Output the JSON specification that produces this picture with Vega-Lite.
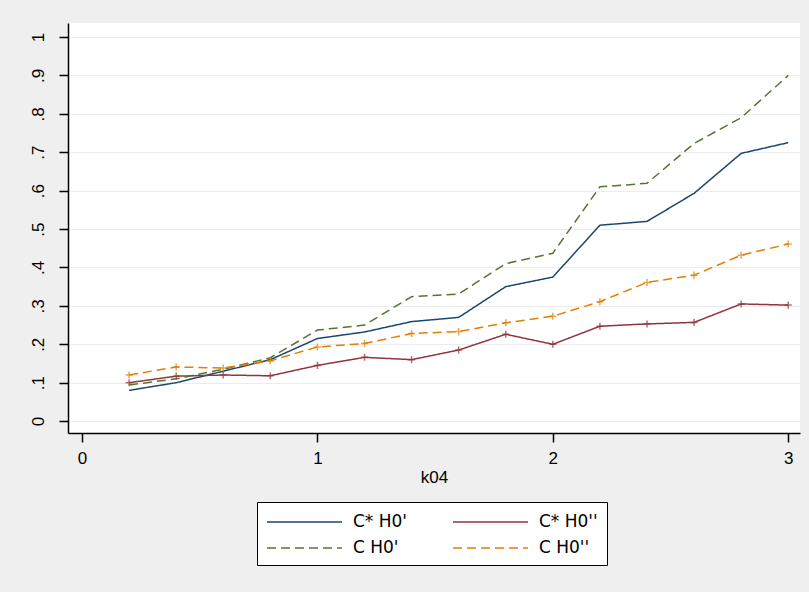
{
  "$schema": "https://vega.github.io/schema/vega-lite/v6.json",
  "autosize": {"type": "none"},
  "width": 732,
  "height": 410,
  "padding": {"left": 68, "top": 23, "right": 9, "bottom": 159},
  "background": "#efefef",
  "config": {
    "view": {"fill": "white", "stroke": null},
    "font": "Liberation Sans",
    "axis": {
      "domainColor": "black", "domainWidth": 1.5,
      "tickColor": "black", "tickWidth": 1.5, "tickSize": 9,
      "labelColor": "black", "labelFontSize": 17, "labelFont": "Liberation Sans",
      "titleColor": "black", "titleFontSize": 17, "titleFontWeight": "normal", "titleFont": "Liberation Sans",
      "gridColor": "#ececec", "gridWidth": 1
    }
  },
  "data": {
    "values": [
      {"x": 0.2, "series": "C* H0'", "y": 0.08},
      {"x": 0.4, "series": "C* H0'", "y": 0.10},
      {"x": 0.6, "series": "C* H0'", "y": 0.13},
      {"x": 0.8, "series": "C* H0'", "y": 0.16},
      {"x": 1.0, "series": "C* H0'", "y": 0.215},
      {"x": 1.2, "series": "C* H0'", "y": 0.232},
      {"x": 1.4, "series": "C* H0'", "y": 0.259},
      {"x": 1.6, "series": "C* H0'", "y": 0.27},
      {"x": 1.8, "series": "C* H0'", "y": 0.35},
      {"x": 2.0, "series": "C* H0'", "y": 0.375},
      {"x": 2.2, "series": "C* H0'", "y": 0.51},
      {"x": 2.4, "series": "C* H0'", "y": 0.52},
      {"x": 2.6, "series": "C* H0'", "y": 0.593},
      {"x": 2.8, "series": "C* H0'", "y": 0.697},
      {"x": 3.0, "series": "C* H0'", "y": 0.725},
      {"x": 0.2, "series": "C* H0''", "y": 0.10},
      {"x": 0.4, "series": "C* H0''", "y": 0.117},
      {"x": 0.6, "series": "C* H0''", "y": 0.12},
      {"x": 0.8, "series": "C* H0''", "y": 0.118},
      {"x": 1.0, "series": "C* H0''", "y": 0.145},
      {"x": 1.2, "series": "C* H0''", "y": 0.166},
      {"x": 1.4, "series": "C* H0''", "y": 0.16},
      {"x": 1.6, "series": "C* H0''", "y": 0.185},
      {"x": 1.8, "series": "C* H0''", "y": 0.226},
      {"x": 2.0, "series": "C* H0''", "y": 0.2},
      {"x": 2.2, "series": "C* H0''", "y": 0.247},
      {"x": 2.4, "series": "C* H0''", "y": 0.253},
      {"x": 2.6, "series": "C* H0''", "y": 0.257},
      {"x": 2.8, "series": "C* H0''", "y": 0.305},
      {"x": 3.0, "series": "C* H0''", "y": 0.302},
      {"x": 0.2, "series": "C H0'", "y": 0.094},
      {"x": 0.4, "series": "C H0'", "y": 0.11},
      {"x": 0.6, "series": "C H0'", "y": 0.135},
      {"x": 0.8, "series": "C H0'", "y": 0.165},
      {"x": 1.0, "series": "C H0'", "y": 0.237},
      {"x": 1.2, "series": "C H0'", "y": 0.25},
      {"x": 1.4, "series": "C H0'", "y": 0.324},
      {"x": 1.6, "series": "C H0'", "y": 0.331},
      {"x": 1.8, "series": "C H0'", "y": 0.41},
      {"x": 2.0, "series": "C H0'", "y": 0.437},
      {"x": 2.2, "series": "C H0'", "y": 0.61},
      {"x": 2.4, "series": "C H0'", "y": 0.619},
      {"x": 2.6, "series": "C H0'", "y": 0.723},
      {"x": 2.8, "series": "C H0'", "y": 0.79},
      {"x": 3.0, "series": "C H0'", "y": 0.9},
      {"x": 0.2, "series": "C H0''", "y": 0.12},
      {"x": 0.4, "series": "C H0''", "y": 0.141},
      {"x": 0.6, "series": "C H0''", "y": 0.138},
      {"x": 0.8, "series": "C H0''", "y": 0.157},
      {"x": 1.0, "series": "C H0''", "y": 0.193},
      {"x": 1.2, "series": "C H0''", "y": 0.202},
      {"x": 1.4, "series": "C H0''", "y": 0.228},
      {"x": 1.6, "series": "C H0''", "y": 0.233},
      {"x": 1.8, "series": "C H0''", "y": 0.256},
      {"x": 2.0, "series": "C H0''", "y": 0.273},
      {"x": 2.2, "series": "C H0''", "y": 0.311},
      {"x": 2.4, "series": "C H0''", "y": 0.361},
      {"x": 2.6, "series": "C H0''", "y": 0.38},
      {"x": 2.8, "series": "C H0''", "y": 0.432},
      {"x": 3.0, "series": "C H0''", "y": 0.461}
    ]
  },
  "encoding": {
    "x": {
      "field": "x", "type": "quantitative", "title": "k04",
      "scale": {"domain": [-0.0595, 3.05], "nice": false, "zero": false},
      "axis": {"values": [0, 1, 2, 3], "grid": false, "labelPadding": 8, "titlePadding": 3}
    },
    "y": {
      "field": "y", "type": "quantitative", "title": null,
      "scale": {"domain": [-0.031, 1.0365], "nice": false, "zero": false},
      "axis": {
        "values": [0, 0.1, 0.2, 0.3, 0.4, 0.5, 0.6, 0.7, 0.8, 0.9, 1],
        "labelExpr": "datum.value == 0 ? '0' : datum.value == 1 ? '1' : replace(format(datum.value, '.1f'), '0.', '.')",
        "labelAngle": -90, "labelAlign": "center", "labelBaseline": "bottom",
        "labelPadding": 12, "grid": true
      }
    }
  },
  "layer": [
    {
      "mark": {"type": "line", "strokeWidth": 1.5},
      "encoding": {
        "color": {
          "field": "series", "type": "nominal",
          "scale": {
            "domain": ["C* H0'", "C* H0''", "C H0'", "C H0''"],
            "range": ["#1a476f", "#90353b", "#55752f", "#e37e00"]
          },
          "legend": {
            "title": null, "orient": "none", "legendX": 189, "legendY": 479, "direction": "horizontal",
            "columns": 2, "columnPadding": 42, "rowPadding": 7, "padding": 9,
            "symbolType": "M-1,0H6.5", "symbolSize": 400, "symbolStrokeWidth": 1.5,
            "labelFontSize": 17, "labelColor": "black", "labelOffset": 65, "labelFont": "DejaVu Sans",
            "fillColor": "white", "strokeColor": "black"
          }
        },
        "strokeDash": {
          "field": "series", "type": "nominal",
          "scale": {
            "domain": ["C* H0'", "C* H0''", "C H0'", "C H0''"],
            "range": [[1, 0], [1, 0], [9, 5], [9, 5]]
          },
          "legend": {
            "title": null, "orient": "none", "legendX": 189, "legendY": 479, "direction": "horizontal",
            "columns": 2, "columnPadding": 42, "rowPadding": 7, "padding": 9,
            "symbolType": "M-1,0H6.5", "symbolSize": 400, "symbolStrokeWidth": 1.5,
            "labelFontSize": 17, "labelColor": "black", "labelOffset": 65, "labelFont": "DejaVu Sans",
            "fillColor": "white", "strokeColor": "black"
          }
        }
      }
    },
    {
      "transform": [{"filter": "datum.series == \"C* H0''\" || datum.series == \"C H0''\""}],
      "mark": {"type": "point", "shape": "M-1,0H1M0,-1V1", "filled": false, "size": 50, "strokeWidth": 1.5},
      "encoding": {
        "color": {"field": "series", "type": "nominal", "legend": null}
      }
    }
  ]
}
